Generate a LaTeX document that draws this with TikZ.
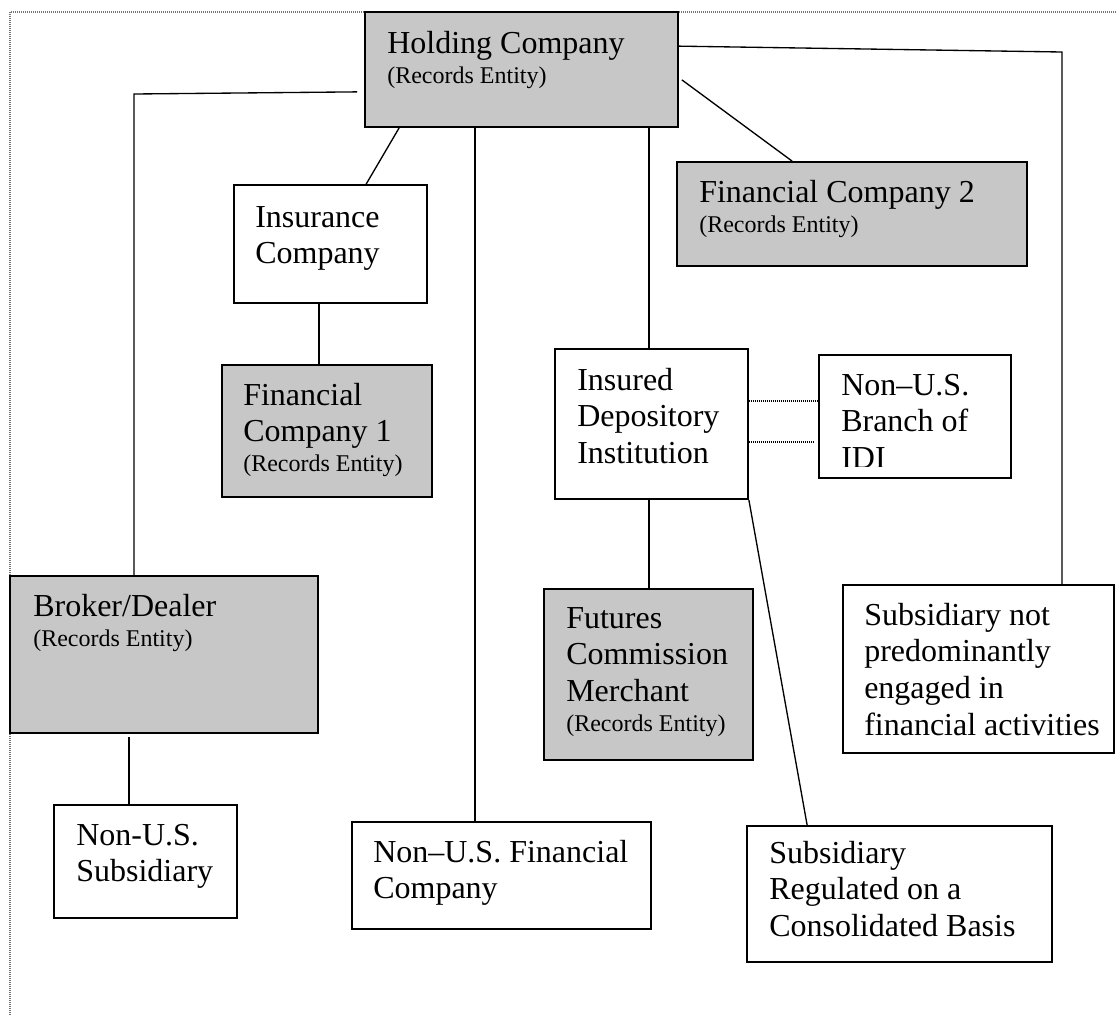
\documentclass[tikz,border=0pt]{standalone}
\usepackage{fontspec}
\setmainfont{Liberation Serif}
\usetikzlibrary{fit,calc}
\newcommand\mainf{\fontsize{24}{27.5}\selectfont}
\newcommand\smallf{\fontsize{18}{21}\selectfont}
\begin{document}
\begin{tikzpicture}[x=0.75pt,y=-0.75pt,
  box/.style={draw, line width=1.3pt, inner sep=0pt},
  shaded/.style={box, fill=black!22},
  plain/.style={box, fill=white},
  txt/.style={anchor=north west, inner sep=0pt, align=left, font=\mainf},
  link/.style={line width=1pt},
  dots/.style={line width=1pt, dash pattern=on 0.75pt off 0.75pt},
  outerframe/.style={black!55, line width=0.8pt, dash pattern=on 0.6pt off 0.9pt}]
\useasboundingbox (0,0) rectangle (1116,1015);
\draw[outerframe] (10,1015) -- (10,12) -- (1116,12);

% boxes
\node[shaded, fit={(365,12) (678,127)}] (holding) {};
\node[plain, fit={(234,185) (427,303)}] (insurance) {};
\node[shaded, fit={(222,365) (432,497)}] (fc1) {};
\node[shaded, fit={(677,162) (1027,266)}] (fc2) {};
\node[plain, fit={(555,349) (748,499)}] (idi) {};
\node[plain, fit={(819,355) (1011,478)}] (branch) {};
\node[shaded, fit={(10,576) (318,733)}] (broker) {};
\node[shaded, fit={(544,589) (753,760)}] (futures) {};
\node[plain, fit={(843,585) (1114,753)}] (subnot) {};
\node[plain, fit={(54,805) (237,918)}] (nonussub) {};
\node[plain, fit={(352,822) (651,929)}] (nusfin) {};
\node[plain, fit={(747,826) (1052,962)}] (subreg) {};

% connectors
\coordinate (bdturn) at (134,94);
\draw[link] ($(holding.south west)+(-7,-36)$) -- (bdturn) -- (bdturn |- broker.north);
\draw[link] ($(holding.south west)+(35,0)$) -- ($(insurance.north west)+(133,0)$);
\draw[link] ($(holding.south west)+(111,0)$) -- ($(nusfin.north west)+(124,0)$);
\draw[link] ($(holding.south west)+(285,0)$) -- ($(idi.north west)+(95,0)$);
\draw[link] ($(holding.south east)+(3,-48)$) -- ($(fc2.north west)+(116,0)$);
\coordinate (snturn) at (1062,52);
\draw[link] ($(holding.north east)+(0,35)$) -- (snturn) -- (snturn |- subnot.north);
\draw[link] ($(insurance.south west)+(86,0)$) -- ($(fc1.north west)+(98,0)$);
\draw[link] ($(idi.south west)+(95,0)$) -- ($(futures.north west)+(106,0)$);
\draw[link] (idi.south east) -- ($(subreg.north west)+(61,0)$);
\draw[dots] ($(idi.north east)+(0,53)$) -- ($(branch.north west)+(0,47)$);
\draw[dots] ($(idi.north east)+(0,94)$) -- ($(branch.north west)+(-5,88)$);
\draw[link] ($(broker.south west)+(120,3)$) -- ($(nonussub.north west)+(76,0)$);

% texts
\node[txt] (holdingT) at (387,27.3) {\strut Holding Company\\[-5pt]{\smallf (Records Entity)}};
\node[txt] (insuranceT) at (255,201.3) {\strut Insurance\\Company};
\node[txt] (fc1T) at (243,379.3) {\strut Financial\\Company 1\\[-5pt]{\smallf (Records Entity)}};
\node[txt] (fc2T) at (699,176.3) {\strut Financial Company 2\\[-5pt]{\smallf (Records Entity)}};
\node[txt] (idiT) at (577,364.3) {\strut Insured\\Depository\\Institution};
\begin{scope}
  \clip (819,355) rectangle (1011,466);
  \node[txt] (branchT) at (841,369.3) {\strut Non–U.S.\\Branch of\\IDI};
\end{scope}
\node[txt] (brokerT) at (33,590.3) {\strut Broker/Dealer\\[-5pt]{\smallf (Records Entity)}};
\node[txt] (futuresT) at (566,602.3) {\strut Futures\\Commission\\Merchant\\[-5pt]{\smallf (Records Entity)}};
\node[txt] (subnotT) at (864,599.3) {\strut Subsidiary not\\predominantly\\engaged in\\financial activities};
\node[txt] (nonussubT) at (76,819.3) {\strut Non-U.S.\\Subsidiary};
\node[txt] (nusfinT) at (373,836.3) {\strut Non–U.S. Financial\\Company};
\node[txt] (subregT) at (769,837.3) {\strut Subsidiary\\Regulated on a\\Consolidated Basis};
\end{tikzpicture}
\end{document}
